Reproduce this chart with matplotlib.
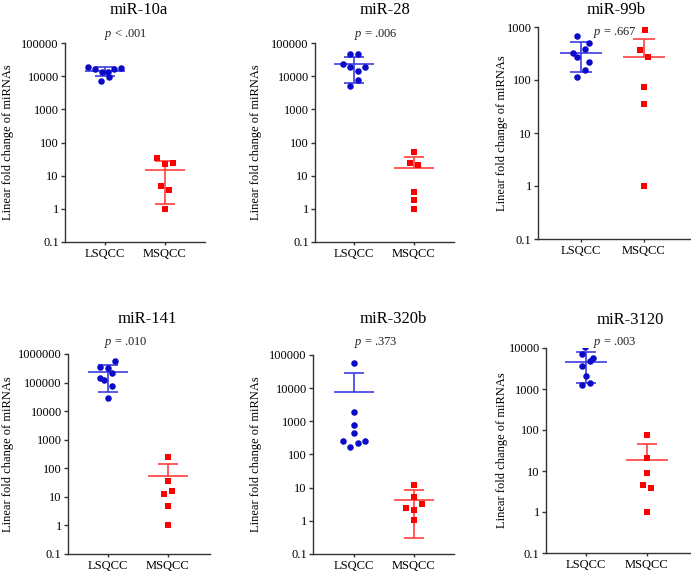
import numpy as np
import matplotlib
matplotlib.use("Agg")
import matplotlib.pyplot as plt
from matplotlib.ticker import FixedLocator, FuncFormatter, NullLocator

plt.rcParams['font.family'] = ['Liberation Serif', 'DejaVu Serif']
plt.rcParams['mathtext.fontset'] = 'custom'
plt.rcParams['mathtext.rm'] = 'Liberation Serif'
plt.rcParams['mathtext.it'] = 'Liberation Serif:italic'

W, H = 691, 573

groups = ['LSQCC', 'MSQCC']
titles = ['miR-10a', 'miR-28', 'miR-99b', 'miR-141', 'miR-320b', 'miR-3120']
p_labels = ['< .001', '= .006', '= .667', '= .010', '= .373', '= .003']

# fold change values
mir10a_ls = [19200, 16700, 13300, 13000, 16400, 17500, 9400, 7100]
mir10a_ms = [34, 22.4, 23.5, 4.8, 3.8, 1.0]
mir28_ls = [47500, 47500, 22600, 18400, 19200, 14200, 7800, 4900]
mir28_ms = [51.8, 24.6, 20.9, 3.2, 1.83, 1.0]
mir99b_ls = [667, 499, 323, 385, 272, 219, 154, 112]
mir99b_ms = [865, 363, 272, 75, 35, 1.0]
mir141_ls = [585000, 351000, 324000, 210000, 144000, 123000, 73800, 28800]
mir141_ms = [241, 36.8, 12.6, 16.4, 4.8, 1.03]
mir320b_ls = [57400, 1930, 802, 440, 247, 171, 230, 258]
mir320b_ms = [12.0, 2.43, 5.2, 3.13, 2.12, 1.03]
mir3120_ls = [10500, 7140, 5810, 4910, 3640, 2110, 1250, 1400]
mir3120_ms = [74, 20.4, 8.9, 4.56, 3.78, 1.02]

# horizontal scatter of the dots (category units)
mir10a_ls_dx = [-0.28, -0.16, -0.05, 0.05, 0.15, 0.27, 0.06, -0.07]
mir10a_ms_dx = [-0.13, 0, 0.13, -0.07, 0.07, 0]
mir28_ls_dx = [-0.06, 0.07, -0.18, -0.06, 0.19, 0.06, 0.06, -0.06]
mir28_ms_dx = [0, -0.07, 0.07, 0, 0, 0]
mir99b_ls_dx = [-0.07, 0.13, -0.12, 0.07, -0.06, 0.13, 0.06, -0.07]
mir99b_ms_dx = [0.01, -0.06, 0.07, 0, 0, 0]
mir141_ls_dx = [0.12, -0.13, 0, 0.06, -0.13, -0.07, 0.06, 0]
mir141_ms_dx = [0, 0, -0.07, 0.07, 0, 0]
mir320b_ls_dx = [0, 0, 0, 0, -0.18, -0.06, 0.07, 0.19]
mir320b_ms_dx = [0, -0.13, 0, 0.13, 0, 0]
mir3120_ls_dx = [-0.02, -0.07, 0.12, 0.07, -0.06, 0, -0.06, 0.07]
mir3120_ms_dx = [0, 0, 0, -0.07, 0.07, 0]

ls_data = [mir10a_ls, mir28_ls, mir99b_ls, mir141_ls, mir320b_ls, mir3120_ls]
ms_data = [mir10a_ms, mir28_ms, mir99b_ms, mir141_ms, mir320b_ms, mir3120_ms]
ls_dx = [mir10a_ls_dx, mir28_ls_dx, mir99b_ls_dx, mir141_ls_dx, mir320b_ls_dx, mir3120_ls_dx]
ms_dx = [mir10a_ms_dx, mir28_ms_dx, mir99b_ms_dx, mir141_ms_dx, mir320b_ms_dx, mir3120_ms_dx]
y_top = [1e5, 1e5, 1e3, 1e6, 1e5, 1e4]

# layout in pixels: axes (left, top, right, bottom), category 0 x, category 1 x
boxes = [(65, 43, 205, 242, 105, 165),
         (315, 43, 454, 242, 354, 414),
         (538, 27, 690, 239, 581, 644),
         (68, 354, 210, 554, 108, 168),
         (313, 355, 454, 554, 354, 414),
         (546, 348, 690, 553, 586, 647)]
title_pos = [(139, 10), (385, 10), (616, 10), (147, 319), (393, 319), (630, 320)]
p_pos = [(126, 34), (376, 34), (615, 32), (126, 343), (376, 343), (615, 343)]
ylab_x = [8, 256, 502, 8, 256, 502]

BLUE_DOT = '#0a0ac8'
BLUE_LINE = '#3c3ce0'
RED_DOT = '#ff0000'
RED_LINE = '#ff4040'


def tick_fmt(v, pos):
    return '%g' % v if v < 1 else '%d' % round(v)


def mean_sd(ax, x, vals, color):
    m = np.mean(vals)
    sd = np.std(vals, ddof=1)
    ax.hlines(m, x - 0.34, x + 0.34, color=color, lw=1.2, zorder=2)
    ax.hlines(m + sd, x - 0.17, x + 0.17, color=color, lw=1.2, zorder=2)
    lo = m - sd
    if lo > 0:
        ax.hlines(lo, x - 0.17, x + 0.17, color=color, lw=1.2, zorder=2)
        ax.vlines(x, lo, m + sd, color=color, lw=1.2, zorder=2)
    else:
        ax.vlines(x, m, m + sd, color=color, lw=1.2, zorder=2)


fig = plt.figure(figsize=(W / 100, H / 100), dpi=100)

for i in range(6):
    l, t, r, b, c0, c1 = boxes[i]
    ax = fig.add_axes([l / W, 1 - b / H, (r - l) / W, (b - t) / H])
    unit = c1 - c0
    ax.set_xlim((l - c0) / unit, (r - c0) / unit)
    ax.set_yscale('log')
    ax.set_ylim(0.1, y_top[i])

    ax.scatter(np.array(ls_dx[i]), ls_data[i], s=22, marker='o', color=BLUE_DOT,
               linewidths=0, zorder=3)
    ax.scatter(1 + np.array(ms_dx[i]), ms_data[i], s=16, marker='s', color=RED_DOT,
               linewidths=0, zorder=3)
    mean_sd(ax, 0, ls_data[i], BLUE_LINE)
    mean_sd(ax, 1, ms_data[i], RED_LINE)

    decades = 10.0 ** np.arange(-1, np.log10(y_top[i]) + 0.5)
    ax.yaxis.set_major_locator(FixedLocator(decades))
    ax.yaxis.set_minor_locator(NullLocator())
    ax.yaxis.set_major_formatter(FuncFormatter(tick_fmt))
    ax.set_xticks([0, 1])
    ax.set_xticklabels(groups)

    for s in ['top', 'right']:
        ax.spines[s].set_visible(False)
    for s in ['left', 'bottom']:
        ax.spines[s].set_color('#333333')
        ax.spines[s].set_linewidth(1.0)
    ax.tick_params(axis='y', length=3, width=1, color='#333333', labelsize=9, pad=1.5)
    ax.tick_params(axis='x', length=2, width=1, color='#333333', labelsize=9, pad=2)

    tx, ty = title_pos[i]
    fig.text(tx / W, 1 - ty / H, titles[i], ha='center', va='center', fontsize=12)
    px, py = p_pos[i]
    fig.text(px / W, 1 - py / H, r'$\it{p}$ ' + p_labels[i], ha='center', va='center',
             fontsize=9, color='#222222')
    fig.text(ylab_x[i] / W, 1 - (t + b) / 2 / H, 'Linear fold change of miRNAs',
             rotation=90, ha='center', va='center', fontsize=9)

fig.savefig('out.png', dpi=100)
